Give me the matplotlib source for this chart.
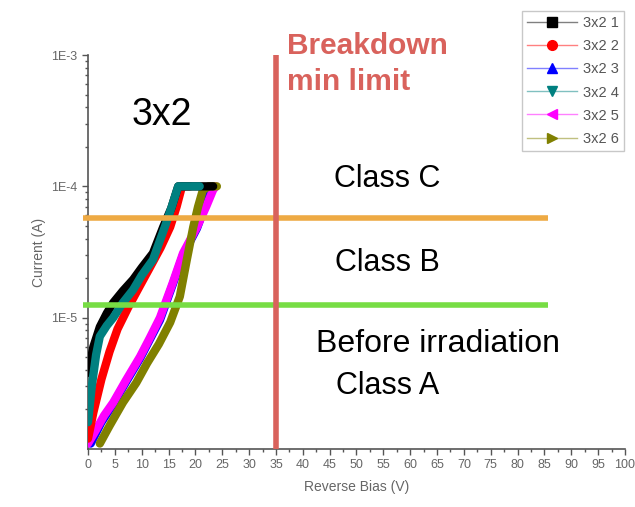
import numpy as np
import matplotlib.pyplot as plt
from matplotlib.colors import to_rgb
from matplotlib.lines import Line2D
from matplotlib.ticker import FixedLocator, FuncFormatter, LogLocator, NullFormatter, MultipleLocator

plt.rcParams['font.family'] = ['Liberation Sans', 'DejaVu Sans']

# IV curves (V, A)
v1 = [0, 1, 2.2, 3.5, 4.7, 6.5, 8.4, 10, 12.1, 14, 15.5, 16.8, 18, 20, 22, 23.3]
i1 = [3.8e-6, 6.0e-6, 8.5e-6, 1.08e-5, 1.3e-5, 1.6e-5, 1.95e-5, 2.4e-5, 3.1e-5, 4.9e-5, 6.8e-5, 1e-4, 1e-4, 1e-4, 1e-4, 1e-4]
v2 = [0, 1, 2.5, 4, 5.5, 7.5, 9.5, 11.5, 13.5, 15.3, 16.5, 17.5, 18.3, 19]
i2 = [1.2e-6, 1.9e-6, 3.4e-6, 5.5e-6, 8.2e-6, 1.2e-5, 1.7e-5, 2.4e-5, 3.4e-5, 4.9e-5, 7e-5, 1e-4, 1e-4, 1e-4]
v3 = [0.5, 2.5, 4.7, 7, 9.7, 11.5, 13.4, 15.8, 17.7, 20.3, 22.5, 23.5]
i3 = [1.1e-6, 1.6e-6, 2.2e-6, 3.2e-6, 4.9e-6, 6.8e-6, 9.6e-6, 1.8e-5, 3.0e-5, 4.8e-5, 8.5e-5, 1e-4]
v4 = [0, 0.7, 1.5, 2.2, 3.5, 4.7, 6.5, 8.4, 10, 12.1, 14.3, 15.6, 16.8, 18, 19.5, 20.8]
i4 = [1.6e-6, 3.0e-6, 5.2e-6, 7.2e-6, 8.7e-6, 1.0e-5, 1.3e-5, 1.63e-5, 2.1e-5, 2.76e-5, 4.9e-5, 7e-5, 1e-4, 1e-4, 1e-4, 1e-4]
v5 = [0, 1.5, 3, 4.7, 7, 9.7, 11.5, 13.4, 15.8, 17.7, 20.3, 22, 23.3, 23.8]
i5 = [1.1e-6, 1.4e-6, 1.8e-6, 2.26e-6, 3.3e-6, 5.05e-6, 7e-6, 1e-5, 1.85e-5, 3.1e-5, 4.9e-5, 7e-5, 9.4e-5, 1e-4]
v6 = [2.2, 4, 6.5, 9, 11, 13.2, 15.3, 17.1, 18.4, 19.6, 20.5, 21.4, 22.5, 24]
i6 = [1.1e-6, 1.5e-6, 2.26e-6, 3.2e-6, 4.5e-6, 6.3e-6, 9.2e-6, 1.45e-5, 2.76e-5, 4.9e-5, 7e-5, 9.4e-5, 1e-4, 1e-4]

series = [(v1, i1, 'black', 's', '3x2 1'),
          (v2, i2, 'red', 'o', '3x2 2'),
          (v3, i3, 'blue', '^', '3x2 3'),
          (v4, i4, '#008080', 'v', '3x2 4'),
          (v5, i5, 'magenta', '<', '3x2 5'),
          (v6, i6, '#808000', '>', '3x2 6')]

breakdown_v = 35
class_b_limit = 1.25e-5
class_c_limit = 5.7e-5
xticks = np.arange(0, 101, 5)

fig = plt.figure(figsize=(6.35, 5.07), dpi=100)
ax = fig.add_axes([0.1386, 0.1144, 0.8456, 0.7771])

# draw order so teal and olive sit on top like in the original
order = [2, 4, 5, 1, 0, 3]
for k in order:
    v, i, c, m, lab = series[k]
    ax.plot(v, i, color=c, lw=6, solid_capstyle='round', solid_joinstyle='round', zorder=3)

ax.set_yscale('log')
ax.set_ylim(1e-6, 1e-3)
ax.set_xlim(0, 100)

ax.hlines([class_c_limit], -0.9, 85.7, color='#eeaa44', lw=4, clip_on=False, zorder=4)
ax.hlines([class_b_limit], -0.9, 85.7, color='#77dd44', lw=4, clip_on=False, zorder=4)
ax.vlines([breakdown_v], 1e-6, 1e-3, color='#d9625c', lw=4, zorder=4)

ax.spines['top'].set_visible(False)
ax.spines['right'].set_visible(False)
for s in ['left', 'bottom']:
    ax.spines[s].set_color('#555555')
    ax.spines[s].set_linewidth(1.2)

ax.set_xticks(xticks)
ax.xaxis.set_minor_locator(MultipleLocator(2.5))
ax.yaxis.set_major_locator(FixedLocator([1e-5, 1e-4, 1e-3]))
ax.yaxis.set_major_formatter(FuncFormatter(lambda y, p: '1E%d' % round(np.log10(y))))
ax.yaxis.set_minor_locator(LogLocator(base=10, subs=np.arange(2, 10)))
ax.yaxis.set_minor_formatter(NullFormatter())
ax.tick_params(which='both', direction='out', colors='#555555', labelsize=9)
ax.tick_params(which='major', length=4, width=1)
ax.tick_params(which='minor', length=2.5, width=1)
ax.tick_params(axis='x', labelcolor='#666666')
ax.tick_params(axis='y', labelcolor='#666666')

ax.set_xlabel('Reverse Bias (V)', fontsize=10, color='#666666', labelpad=6)
ax.set_ylabel('Current (A)', fontsize=10, color='#666666', labelpad=4)

red = '#d9625c'
fig.text(287 / 635, 1 - 54 / 507, 'Breakdown', color=red, fontsize=21.5,
         fontweight='bold', ha='left', va='baseline')
fig.text(287 / 635, 1 - 90 / 507, 'min limit', color=red, fontsize=21.5,
         fontweight='bold', ha='left', va='baseline')
fig.text(132 / 635, 1 - 125 / 507, '3x2', fontsize=27, ha='left', va='baseline')
fig.text(387.5 / 635, 1 - 179 / 507, 'Class C', fontsize=22, ha='center', va='center')
fig.text(387.5 / 635, 1 - 263 / 507, 'Class B', fontsize=22, ha='center', va='center')
fig.text(437.5 / 635, 1 - 344 / 507, 'Before irradiation', fontsize=23, ha='center', va='center')
fig.text(387.5 / 635, 1 - 386 / 507, 'Class A', fontsize=22, ha='center', va='center')


def pale(c):
    r, g, b = to_rgb(c)
    return (0.5 + r / 2, 0.5 + g / 2, 0.5 + b / 2)


handles = [Line2D([], [], color=pale(c), marker=m, markerfacecolor=c, markeredgecolor=c,
                  lw=1, markersize=7, label=lab)
           for v, i, c, m, lab in series]
leg = fig.legend(handles=handles, loc='upper right', bbox_to_anchor=(631 / 635, 1 - 4 / 507),
                 fontsize=10.5, frameon=True, fancybox=False, handlelength=3.4,
                 borderpad=0.35, labelspacing=0.62, handletextpad=0.4)
leg.get_frame().set_edgecolor('#bbbbbb')
leg.get_frame().set_linewidth(1)
for t in leg.get_texts():
    t.set_color('#555555')

fig.savefig('out.png', dpi=100)
